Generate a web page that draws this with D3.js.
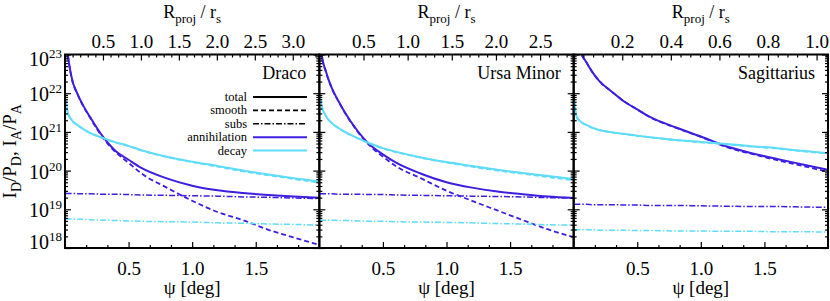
<!DOCTYPE html>
<html>
<head>
<meta charset="utf-8">
<script src="https://cdn.jsdelivr.net/npm/d3@7"></script>
<style>
  body { margin: 0; background: #fff; }
  svg text { font-family: "Liberation Serif", "Times New Roman", serif; fill: #000; }
  .axis path { display: none; }
  .axis line { stroke: #000; stroke-width: 1.2; }
</style>
</head>
<body>
<svg id="chart" width="830" height="301"></svg>
<script>
// values are log10 of I/P
var psiGrid = [0.005, 0.02, 0.05, 0.1, 0.15, 0.2, 0.3, 0.4, 0.5, 0.6, 0.8, 1.0, 1.2, 1.4, 1.6, 1.8, 2.0];

var dracoAnnTotal  = [23.8, 23.1, 22.44, 21.97, 21.64, 21.37, 20.87, 20.50, 20.28, 20.07, 19.80, 19.61, 19.49, 19.42, 19.37, 19.33, 19.30];
var dracoAnnSmooth = [23.8, 23.1, 22.43, 21.96, 21.63, 21.35, 20.84, 20.47, 20.20, 19.93, 19.56, 19.22, 18.93, 18.72, 18.47, 18.27, 18.08];
var dracoAnnSubs   = [19.41, 19.41, 19.41, 19.405, 19.40, 19.40, 19.39, 19.39, 19.38, 19.37, 19.36, 19.35, 19.34, 19.32, 19.31, 19.29, 19.28];
var dracoDecTotal  = [21.85, 21.52, 21.32, 21.17, 21.06, 20.97, 20.84, 20.73, 20.64, 20.53, 20.36, 20.23, 20.12, 20.00, 19.90, 19.80, 19.72];
var dracoDecSmooth = [21.85, 21.52, 21.32, 21.17, 21.06, 20.97, 20.84, 20.72, 20.63, 20.52, 20.35, 20.22, 20.10, 19.98, 19.88, 19.78, 19.69];
var dracoDecSubs   = [18.75, 18.75, 18.75, 18.74, 18.74, 18.73, 18.72, 18.71, 18.70, 18.69, 18.68, 18.67, 18.65, 18.64, 18.62, 18.61, 18.59];

var umiAnnTotal  = [23.7, 22.97, 22.58, 22.12, 21.80, 21.51, 21.03, 20.66, 20.42, 20.21, 19.92, 19.70, 19.56, 19.46, 19.39, 19.33, 19.29];
var umiAnnSmooth = [23.7, 22.96, 22.57, 22.11, 21.79, 21.50, 21.01, 20.63, 20.36, 20.12, 19.80, 19.48, 19.22, 18.97, 18.72, 18.48, 18.28];
var umiAnnSubs   = [19.40, 19.40, 19.40, 19.40, 19.39, 19.39, 19.39, 19.38, 19.38, 19.37, 19.36, 19.35, 19.34, 19.33, 19.32, 19.30, 19.29];
var umiDecTotal  = [21.90, 21.65, 21.42, 21.22, 21.10, 21.00, 20.84, 20.70, 20.58, 20.49, 20.34, 20.22, 20.12, 20.02, 19.94, 19.86, 19.78];
var umiDecSmooth = [21.90, 21.65, 21.42, 21.22, 21.10, 21.00, 20.84, 20.69, 20.57, 20.48, 20.33, 20.21, 20.10, 20.00, 19.92, 19.83, 19.75];
var umiDecSubs   = [18.72, 18.72, 18.72, 18.72, 18.71, 18.71, 18.70, 18.69, 18.69, 18.68, 18.67, 18.66, 18.65, 18.63, 18.62, 18.60, 18.59];

var sgrAnnTotal  = [24.2, 23.6, 23.12, 22.80, 22.53, 22.32, 22.04, 21.78, 21.58, 21.39, 21.12, 20.88, 20.63, 20.45, 20.30, 20.16, 20.02];
var sgrAnnSmooth = [24.2, 23.6, 23.12, 22.80, 22.53, 22.32, 22.04, 21.78, 21.58, 21.38, 21.11, 20.87, 20.61, 20.43, 20.27, 20.12, 19.97];
var sgrAnnSubs   = [19.13, 19.13, 19.13, 19.13, 19.12, 19.12, 19.12, 19.11, 19.11, 19.10, 19.10, 19.09, 19.08, 19.07, 19.07, 19.06, 19.05];
var sgrDecTotal  = [21.80, 21.42, 21.28, 21.18, 21.10, 21.05, 20.99, 20.95, 20.90, 20.86, 20.79, 20.74, 20.69, 20.63, 20.58, 20.51, 20.45];
var sgrDecSmooth = [21.80, 21.42, 21.28, 21.18, 21.10, 21.05, 20.99, 20.94, 20.90, 20.86, 20.79, 20.73, 20.68, 20.62, 20.57, 20.50, 20.44];
var sgrDecSubs   = [18.47, 18.47, 18.47, 18.47, 18.47, 18.46, 18.46, 18.46, 18.45, 18.45, 18.44, 18.44, 18.43, 18.43, 18.42, 18.42, 18.41];

var panelNames = ["Draco", "Ursa Minor", "Sagittarius"];
var rprojMax = [3.35, 2.88, 1.047];
var rprojTicks = [[0.5, 1.0, 1.5, 2.0, 2.5, 3.0], [0.5, 1.0, 1.5, 2.0, 2.5], [0.2, 0.4, 0.6, 0.8, 1.0]];
var rprojMinor = [0.1, 0.1, 0.04];
var psiTicks = [0.5, 1.0, 1.5];
var yExponents = [18, 19, 20, 21, 22, 23];
var legendLabels = ["total", "smooth", "subs", "annihilation", "decay"];

var panelSeries = [
  [dracoAnnSmooth, dracoAnnSubs, dracoAnnTotal, dracoDecSmooth, dracoDecSubs, dracoDecTotal],
  [umiAnnSmooth, umiAnnSubs, umiAnnTotal, umiDecSmooth, umiDecSubs, umiDecTotal],
  [sgrAnnSmooth, sgrAnnSubs, sgrAnnTotal, sgrDecSmooth, sgrDecSubs, sgrDecTotal]
];

var blue = "#3d1fe2", cyan = "#5edcf9";
var styles = {
  total:  {w: 2,   dash: null},
  smooth: {w: 1.8, dash: "5,3"},
  subs:   {w: 1.5, dash: "6,2,1.5,2"}
};
var seriesStyle = [
  [blue, "smooth"], [blue, "subs"], [blue, "total"],
  [cyan, "smooth"], [cyan, "subs"], [cyan, "total"]
];

var margin = {top: 54.5, left: 65, right: 2, bottom: 53};
var plotBottom = 301 - margin.bottom;
var panelW = (830 - margin.right - margin.left) / 3;

var svg = d3.select("#chart");

var y = d3.scaleLog().domain([1e18, 1e23]).range([plotBottom, margin.top]);
var yMajor = yExponents.map(function(e){ return Math.pow(10, e); });
var yMinor = [];
yExponents.slice(0, -1).forEach(function(e){
  for (var k = 2; k < 10; k++) yMinor.push(k * Math.pow(10, e));
});

panelNames.forEach(function(name, i){
  var x0 = margin.left + i * panelW;
  var x = d3.scaleLinear().domain([0, 2]).range([x0, x0 + panelW]);
  var xTop = d3.scaleLinear().domain([0, rprojMax[i]]).range([x0, x0 + panelW]);

  var grp = svg.append("g");

  grp.append("clipPath").attr("id", "clip" + i)
    .append("rect").attr("x", x0).attr("y", margin.top)
    .attr("width", panelW).attr("height", plotBottom - margin.top);

  /* curves */
  var line = d3.line()
    .x(function(d){ return x(d[0]); })
    .y(function(d){ return y(Math.pow(10, d[1])); })
    .curve(d3.curveMonotoneX);

  panelSeries[i].forEach(function(vals, s){
    var st = styles[seriesStyle[s][1]];
    grp.append("path")
      .attr("clip-path", "url(#clip" + i + ")")
      .attr("d", line(psiGrid.map(function(p, j){ return [p, vals[j]]; })))
      .attr("fill", "none")
      .attr("stroke", seriesStyle[s][0])
      .attr("stroke-width", st.w)
      .attr("stroke-dasharray", st.dash);
  });

  /* bottom axis (psi) */
  var bAxis = grp.append("g").attr("class", "axis")
    .attr("transform", "translate(0," + plotBottom + ")")
    .call(d3.axisBottom(x).tickValues(psiTicks).tickSize(-6).tickFormat(d3.format(".1f")));
  bAxis.selectAll("text").attr("y", 26.5).attr("dy", null).style("font-size", "19px");
  grp.append("g").attr("class", "axis")
    .attr("transform", "translate(0," + plotBottom + ")")
    .call(d3.axisBottom(x).tickValues(d3.range(1, 12).filter(function(k){ return k % 3; }).map(function(k){ return k / 6; }))
      .tickSize(-3).tickFormat(""));

  /* top axis (R_proj / r_s) */
  var tAxis = grp.append("g").attr("class", "axis")
    .attr("transform", "translate(0," + margin.top + ")")
    .call(d3.axisTop(xTop).tickValues(rprojTicks[i]).tickSize(-6).tickFormat(d3.format(".1f")));
  tAxis.selectAll("text").attr("y", -6.5).attr("dy", null).style("font-size", "19px");
  var minorTop = d3.range(rprojMinor[i], rprojMax[i], rprojMinor[i]).filter(function(v){
    return rprojTicks[i].every(function(t){ return Math.abs(t - v) > 1e-6; });
  });
  grp.append("g").attr("class", "axis")
    .attr("transform", "translate(0," + margin.top + ")")
    .call(d3.axisTop(xTop).tickValues(minorTop).tickSize(-3).tickFormat(""));

  /* left and right y ticks, pointing inward */
  var lAxis = grp.append("g").attr("class", "axis")
    .attr("transform", "translate(" + x0 + ",0)")
    .call(d3.axisLeft(y).tickValues(yMajor).tickSize(-6).tickPadding(3).tickFormat(i == 0 ? String : ""));
  grp.append("g").attr("class", "axis")
    .attr("transform", "translate(" + x0 + ",0)")
    .call(d3.axisLeft(y).tickValues(yMinor).tickSize(-3).tickFormat(""));
  grp.append("g").attr("class", "axis")
    .attr("transform", "translate(" + (x0 + panelW) + ",0)")
    .call(d3.axisRight(y).tickValues(yMajor).tickSize(-6).tickFormat(""));
  grp.append("g").attr("class", "axis")
    .attr("transform", "translate(" + (x0 + panelW) + ",0)")
    .call(d3.axisRight(y).tickValues(yMinor).tickSize(-3).tickFormat(""));

  if (i == 0) {
    lAxis.selectAll(".tick text").each(function(d){
      var e = Math.round(Math.log10(d));
      var t = d3.select(this).attr("dy", null)
        .attr("y", e == 23 ? 10.5 : (e == 18 ? 0 : 7.5))
        .style("font-size", "20px").text("");
      t.append("tspan").text("10");
      t.append("tspan").attr("dy", -8).style("font-size", "13px").text(e);
    });
  }

  /* frame */
  grp.append("rect")
    .attr("x", x0).attr("y", margin.top)
    .attr("width", panelW).attr("height", plotBottom - margin.top)
    .attr("fill", "none").attr("stroke", "#000").attr("stroke-width", 2);

  /* panel name */
  grp.append("text")
    .attr("x", x0 + panelW - 13).attr("y", 79)
    .attr("text-anchor", "end").style("font-size", "18px")
    .text(name);

  /* x titles */
  grp.append("text")
    .attr("x", x0 + panelW / 2).attr("y", 294)
    .attr("text-anchor", "middle").style("font-size", "19px")
    .text("\u03c8 [deg]");

  var tt = grp.append("text")
    .attr("x", x0 + panelW / 2).attr("y", 18)
    .attr("text-anchor", "middle").style("font-size", "18px");
  tt.append("tspan").text("R");
  tt.append("tspan").attr("dy", 5).style("font-size", "13px").text("proj");
  tt.append("tspan").attr("dy", -5).text(" / r");
  tt.append("tspan").attr("dy", 5).style("font-size", "13px").text("s");
});

/* legend in the Draco panel */
var legend = svg.append("g").style("font-size", "12.5px");
var legColors = ["#000", "#000", "#000", blue, cyan];
var legStyles = ["total", "smooth", "subs", "total", "total"];
legendLabels.forEach(function(lab, k){
  var ly = 97 + k * 13.4;
  legend.append("text").attr("x", 247).attr("y", ly + 4)
    .attr("text-anchor", "end").text(lab);
  legend.append("line")
    .attr("x1", 253).attr("x2", 307).attr("y1", ly).attr("y2", ly)
    .attr("stroke", legColors[k])
    .attr("stroke-width", styles[legStyles[k]].w)
    .attr("stroke-dasharray", styles[legStyles[k]].dash);
});

/* y title */
var yt = svg.append("text")
  .attr("transform", "translate(15.5," + ((margin.top + plotBottom) / 2) + ") rotate(-90)")
  .attr("text-anchor", "middle").style("font-size", "19px");
yt.append("tspan").text("I");
yt.append("tspan").attr("dy", 5).style("font-size", "14px").text("D");
yt.append("tspan").attr("dy", -5).text("/P");
yt.append("tspan").attr("dy", 5).style("font-size", "14px").text("D");
yt.append("tspan").attr("dy", -5).text(", I");
yt.append("tspan").attr("dy", 5).style("font-size", "14px").text("A");
yt.append("tspan").attr("dy", -5).text("/P");
yt.append("tspan").attr("dy", 5).style("font-size", "14px").text("A");
</script>
</body>
</html>
